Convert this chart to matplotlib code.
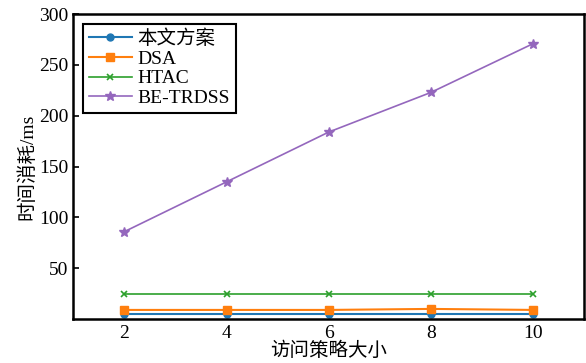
import numpy as np
import matplotlib.pyplot as plt

plt.rcParams['font.family'] = ['Liberation Serif', 'Noto Sans CJK SC']
plt.rcParams['axes.unicode_minus'] = False

x = [2, 4, 6, 8, 10]
ours = [5, 5, 5, 5, 5]
dsa = [9, 9, 9, 10, 9]
htac = [25, 25, 25, 25, 25]
be_trdss = [86, 135, 184, 223, 271]

fig = plt.figure(figsize=(5.86, 3.63), dpi=100)
ax = fig.add_axes([0.125, 0.121, 0.872, 0.84])

ax.plot(x, ours, '-o', color='#1f77b4', ms=5, lw=1.5, label='本文方案')
ax.plot(x, dsa, '-s', color='#ff7f0e', ms=6, lw=1.5, label='DSA')
ax.plot(x, htac, '-x', color='#2ca02c', ms=4, mew=1.2, lw=1.2, label='HTAC')
ax.plot(x, be_trdss, '-*', color='#9467bd', ms=7, lw=1.2, label='BE-TRDSS')

ax.set_xlim(1, 11)
ax.set_ylim(0, 300)
ax.set_xticks([2, 4, 6, 8, 10])
ax.set_yticks([50, 100, 150, 200, 250, 300])
ax.tick_params(direction='in', labelsize=14, width=1.2, length=4)
ax.tick_params(axis='x', length=0, pad=4)
for s in ax.spines.values():
    s.set_linewidth(1.8)

ax.set_xlabel('访问策略大小', fontsize=14, labelpad=0)
ax.set_ylabel('时间消耗/ms', fontsize=14, labelpad=2)

leg = ax.legend(loc='upper left', fontsize=14, fancybox=False, framealpha=1,
                edgecolor='black', borderpad=0.3, labelspacing=0.1,
                handlelength=2.2, handletextpad=0.3, borderaxespad=0.5)
leg.get_frame().set_linewidth(1.5)

fig.savefig('out.png', dpi=100)
